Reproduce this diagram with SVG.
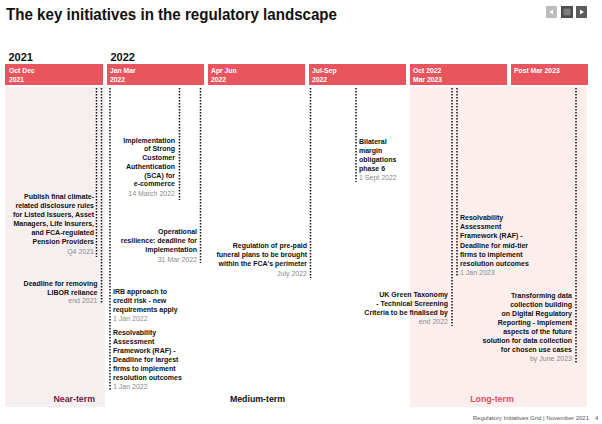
<svg xmlns="http://www.w3.org/2000/svg" width="602" height="424" viewBox="0 0 602 424">
<style>
text{font-family:"Liberation Sans",Arial,sans-serif}
.t{font-size:7px;font-weight:bold;fill:#111}
.d{font-size:7px;fill:#8a8a8a}
.e{text-anchor:end}
.h{font-size:6.8px;font-weight:bold;fill:#fff}
.bar{fill:#e8555e}
.yr{font-size:11px;font-weight:bold;fill:#111}
.lbl{font-size:8.8px;font-weight:bold}
.dot{stroke:#111;stroke-width:1.5;stroke-dasharray:1.5 1.5;fill:none}
</style>
<rect width="602" height="424" fill="#fff"/>
<text x="6" y="19.5" font-size="17" font-weight="bold" fill="#111" textLength="331" lengthAdjust="spacingAndGlyphs">The key initiatives in the regulatory landscape</text>
<g id="nav">
<rect x="546" y="6" width="11" height="12" fill="#bdbdbd"/>
<polygon points="549.5,12 553,9.5 553,14.5" fill="#fff"/>
<rect x="561" y="6" width="12" height="12" fill="#4d4d4d"/>
<rect x="563.5" y="8.5" width="7" height="7" fill="#6e6e6e"/>
<path d="M563.5 10h7M563.5 12h7M563.5 14h7" stroke="#9a9a9a" stroke-width="0.8"/>
<rect x="576" y="6" width="11" height="12" fill="#5c5c5c"/>
<polygon points="580,9.5 584,12 580,14.5" fill="#fff"/>
</g>
<text class="yr" x="8.5" y="61">2021</text>
<text class="yr" x="110.5" y="61">2022</text>
<g id="panels">
<rect x="5" y="87" width="100" height="320" fill="#f6eff0"/>
<rect x="410" y="87" width="177" height="320" fill="#fdeeee"/>
</g>
<g id="headers">
<g id="h1"><rect class="bar" x="5" y="64" width="98" height="21"/><text class="h" x="9" y="73">Oct  Dec</text><text class="h" x="9" y="82">2021</text></g>
<g id="h2"><rect class="bar" x="107" y="64" width="97" height="21"/><text class="h" x="110" y="73">Jan  Mar</text><text class="h" x="110" y="82">2022</text></g>
<g id="h3"><rect class="bar" x="208" y="64" width="97" height="21"/><text class="h" x="211" y="73">Apr  Jun</text><text class="h" x="211" y="82">2022</text></g>
<g id="h4"><rect class="bar" x="309" y="64" width="97" height="21"/><text class="h" x="312" y="73">Jul-Sep</text><text class="h" x="312" y="82">2022</text></g>
<g id="h5"><rect class="bar" x="410" y="64" width="97" height="21"/><text class="h" x="413" y="73">Oct 2022</text><text class="h" x="413" y="82">Mar 2023</text></g>
<g id="h6"><rect class="bar" x="511" y="64" width="77" height="21"/><text class="h" x="514" y="73">Post Mar 2023</text></g>
</g>
<g id="connectors">
<line class="dot" x1="96.5" y1="88" x2="96.5" y2="257"/>
<line class="dot" x1="101.5" y1="88" x2="101.5" y2="304"/>
<line class="dot" x1="110" y1="88" x2="110" y2="391"/>
<line class="dot" x1="179.5" y1="88" x2="179.5" y2="200"/>
<line class="dot" x1="200.5" y1="88" x2="200.5" y2="263"/>
<line class="dot" x1="310.5" y1="88" x2="310.5" y2="278"/>
<line class="dot" x1="356" y1="88" x2="356" y2="182"/>
<line class="dot" x1="452" y1="88" x2="452" y2="326"/>
<line class="dot" x1="457" y1="88" x2="457" y2="276"/>
<line class="dot" x1="576" y1="88" x2="576" y2="363"/>
</g>
<g id="climate">
<text class="t e" x="94" y="198.5">Publish final climate-</text>
<text class="t e" x="94" y="207.5">related disclosure rules</text>
<text class="t e" x="94" y="216.5">for Listed Issuers, Asset</text>
<text class="t e" x="94" y="225.5">Managers, Life Insurers,</text>
<text class="t e" x="94" y="234.5">and FCA-regulated</text>
<text class="t e" x="94" y="243.5">Pension Providers</text>
<text class="d e" x="94" y="254">Q4 2021</text>
</g>
<g id="libor">
<text class="t e" x="97.5" y="285.5">Deadline for removing</text>
<text class="t e" x="97.5" y="294.5">LIBOR reliance</text>
<text class="d e" x="97.5" y="303">end 2021</text>
</g>
<g id="irb">
<text class="t" x="113" y="293.5">IRB approach to</text>
<text class="t" x="113" y="302.5">credit risk - new</text>
<text class="t" x="113" y="311.5">requirements apply</text>
<text class="d" x="113" y="320.5">1 Jan 2022</text>
</g>
<g id="raf-largest">
<text class="t" x="113" y="334.5">Resolvability</text>
<text class="t" x="113" y="343.5">Assessment</text>
<text class="t" x="113" y="352.5">Framework (RAF) -</text>
<text class="t" x="113" y="361.5">Deadline for largest</text>
<text class="t" x="113" y="370.5">firms to implement</text>
<text class="t" x="113" y="379.5">resolution outcomes</text>
<text class="d" x="113" y="389">1 Jan 2022</text>
</g>
<g id="sca">
<text class="t e" x="175" y="142.5">Implementation</text>
<text class="t e" x="175" y="151.3">of Strong</text>
<text class="t e" x="175" y="160">Customer</text>
<text class="t e" x="175" y="168.8">Authentication</text>
<text class="t e" x="175" y="177.5">(SCA) for</text>
<text class="t e" x="175" y="186.3">e-commerce</text>
<text class="d e" x="175" y="195.5">14 March 2022</text>
</g>
<g id="opres">
<text class="t e" x="197" y="234">Operational</text>
<text class="t e" x="197" y="243">resilience: deadline for</text>
<text class="t e" x="197" y="252">implementation</text>
<text class="d e" x="197" y="261.5">31 Mar 2022</text>
</g>
<g id="funeral">
<text class="t e" x="307" y="248">Regulation of pre-paid</text>
<text class="t e" x="307" y="257">funeral plans to be brought</text>
<text class="t e" x="307" y="266">within the FCA's perimeter</text>
<text class="d e" x="307" y="275.5">July 2022</text>
</g>
<g id="bilateral">
<text class="t" x="359" y="144">Bilateral</text>
<text class="t" x="359" y="153">margin</text>
<text class="t" x="359" y="162">obligations</text>
<text class="t" x="359" y="171">phase 6</text>
<text class="d" x="359" y="179.5">1 Sept 2022</text>
</g>
<g id="taxonomy">
<text class="t e" x="448" y="296.5">UK Green Taxonomy</text>
<text class="t e" x="448" y="305.5">- Technical Screening</text>
<text class="t e" x="448" y="315">Criteria to be finalised by</text>
<text class="d e" x="448" y="324">end 2022</text>
</g>
<g id="raf-midtier">
<text class="t" x="460" y="220">Resolvability</text>
<text class="t" x="460" y="229">Assessment</text>
<text class="t" x="460" y="238">Framework (RAF) -</text>
<text class="t" x="460" y="247.5">Deadline for mid-tier</text>
<text class="t" x="460" y="256.5">firms to implement</text>
<text class="t" x="460" y="265.5">resolution outcomes</text>
<text class="d" x="460" y="275">1 Jan 2023</text>
</g>
<g id="data">
<text class="t e" x="572" y="297.5">Transforming data</text>
<text class="t e" x="572" y="306.5">collection building</text>
<text class="t e" x="572" y="315.5">on Digital Regulatory</text>
<text class="t e" x="572" y="324.5">Reporting - Implement</text>
<text class="t e" x="572" y="333.5">aspects of the future</text>
<text class="t e" x="572" y="342.5">solution for data collection</text>
<text class="t e" x="572" y="351.5">for chosen use cases</text>
<text class="d e" x="572" y="361">by June 2023</text>
</g>
<text class="lbl" x="95" y="402" text-anchor="end" fill="#6d1f3c">Near-term</text>
<text class="lbl" x="257.5" y="402" text-anchor="middle" fill="#111">Medium-term</text>
<text class="lbl" x="492" y="402" text-anchor="middle" fill="#e84c5a">Long-term</text>
<text x="589" y="420" font-size="6" fill="#555" text-anchor="end">Regulatory Initiatives Grid | November 2021</text>
<text x="595" y="420" font-size="6" fill="#555">4</text>
</svg>
